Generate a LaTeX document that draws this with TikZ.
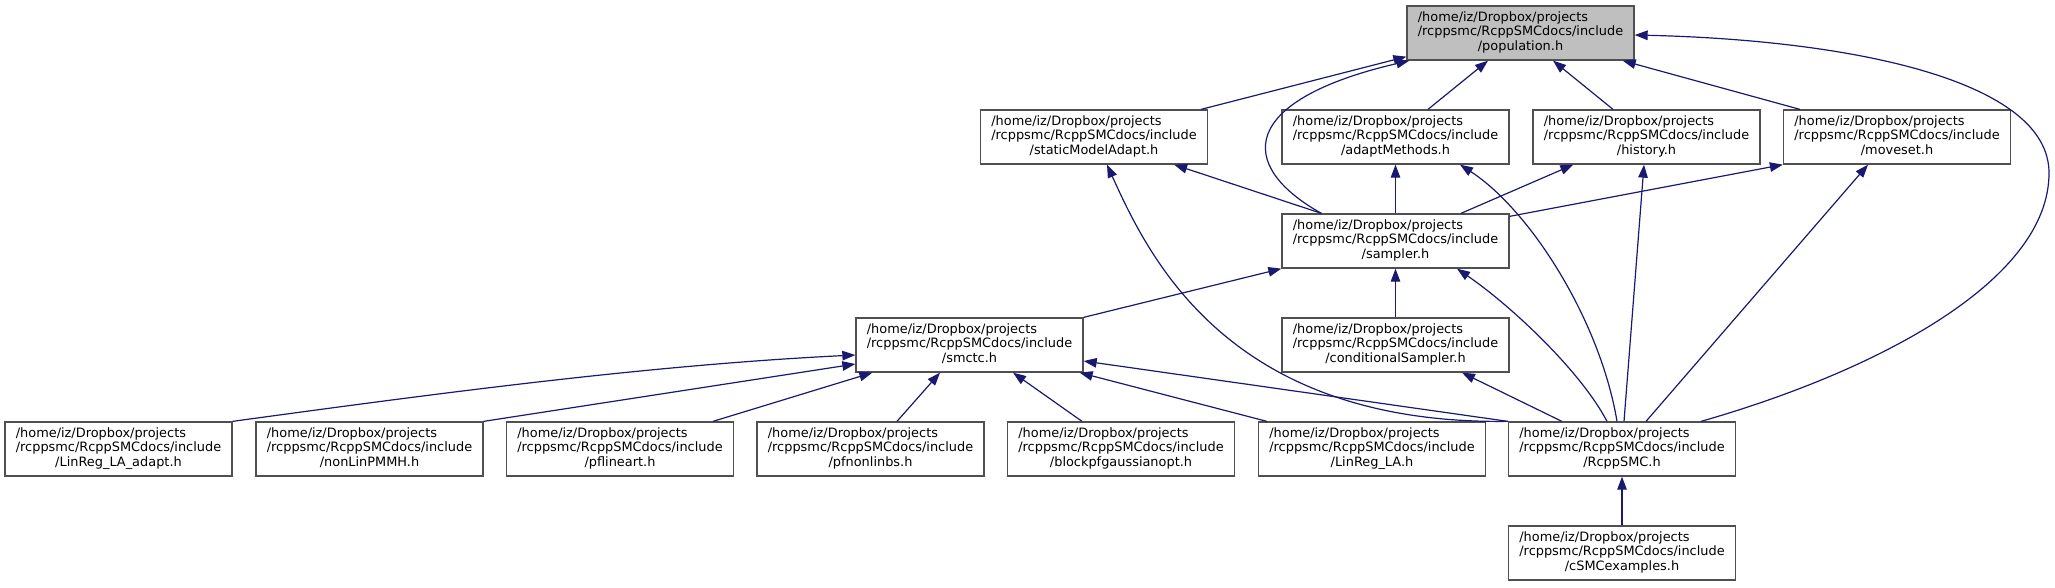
\documentclass[tikz,border=0pt]{standalone}
\usepackage{fontspec}
\setmainfont{DejaVu Sans}
\usetikzlibrary{arrows.meta,calc}
\definecolor{edgeblue}{HTML}{191970}
\definecolor{boxgray}{HTML}{505050}
\definecolor{rootfill}{HTML}{BFBFBF}
\newcommand\fpath[1]{\begin{tabular}{@{}l@{}}/home/iz/Dropbox/projects\\/rcppsmc/RcppSMCdocs/include\\\multicolumn{1}{@{}c@{}}{/#1}\end{tabular}}
\tikzset{
  filebox/.style={draw=boxgray, line width=1.3pt, fill=white, minimum width=227pt, minimum height=54pt, inner sep=0pt, font=\fontsize{12.9}{14.2}\selectfont},
  rootbox/.style={filebox, fill=rootfill},
  edge/.style={draw=edgeblue, line width=1.2pt, -{Triangle[length=13pt,width=9.5pt]}}
}
\begin{document}
\begin{tikzpicture}[x=1pt,y=-1pt]
\useasboundingbox (0,0) rectangle (2055,587);
% nodes
\node[rootbox] (pop) at (1520.5,33) {\fpath{population.h}};
\node[filebox] (sma) at (1094,137) {\fpath{staticModelAdapt.h}};
\node[filebox] (adm) at (1395.5,137) {\fpath{adaptMethods.h}};
\node[filebox] (his) at (1646.5,137) {\fpath{history.h}};
\node[filebox] (mov) at (1897,137) {\fpath{moveset.h}};
\node[filebox] (smp) at (1395.5,241) {\fpath{sampler.h}};
\node[filebox] (smc) at (969.5,345) {\fpath{smctc.h}};
\node[filebox] (cds) at (1395.5,345) {\fpath{conditionalSampler.h}};
\node[filebox] (lla) at (118.5,449) {\fpath{LinReg\_LA\_adapt.h}};
\node[filebox] (nlp) at (369.5,449) {\fpath{nonLinPMMH.h}};
\node[filebox] (pfl) at (620,449) {\fpath{pflineart.h}};
\node[filebox] (pfn) at (870.5,449) {\fpath{pfnonlinbs.h}};
\node[filebox] (bpg) at (1121,449) {\fpath{blockpfgaussianopt.h}};
\node[filebox] (lrl) at (1372,449) {\fpath{LinReg\_LA.h}};
\node[filebox] (rcs) at (1622,449) {\fpath{RcppSMC.h}};
\node[filebox] (cse) at (1622,553) {\fpath{cSMCexamples.h}};
% edges to population
\draw[edge] ($(sma.north east)+(-7,0)$) -- ($(pop.south west)+(0,-4)$);
\draw[edge] ($(smp.north west)+(40,0)$) .. controls (1235,165) and (1240,100) .. ($(pop.south west)+(3,0)$);
\draw[edge] ($(adm.north)+(32.5,0)$) -- ($(pop.south)+(-32.5,0)$);
\draw[edge] ($(his.north)+(-33.5,0)$) -- ($(pop.south)+(32.5,0)$);
\draw[edge] ($(mov.north west)+(17,0)$) -- ($(pop.south east)+(-12,0)$);
\draw[edge] ($(rcs.north east)+(-35,0)$) .. controls (1880,370) and (2049,280) .. (2049,173) .. controls (2049,80) and (1850,40) .. ($(pop.east)+(0,2)$);
% edges to row 2
\draw[edge] ($(smp.north west)+(40,0)$) -- ($(sma.south east)+(-34,0)$);
\draw[edge] (smp.north) -- (adm.south);
\draw[edge] ($(smp.north)+(65.5,0)$) -- ($(his.south west)+(41,0)$);
\draw[edge] ($(smp.north east)+(0,3)$) -- (mov.south west);
\draw[edge] (rcs.north west) .. controls (1230,425) and (1150,260) .. ($(sma.south)+(13,0)$);
\draw[edge] ($(rcs.north)+(-5,0)$) .. controls (1600,320) and (1530,210) .. ($(adm.south)+(64.5,0)$);
\draw[edge] ($(rcs.north)+(2,0)$) -- ($(his.south)+(-2.5,0)$);
\draw[edge] ($(rcs.north)+(24,0)$) -- ($(mov.south)+(-29,0)$);
% edges to sampler
\draw[edge] (smc.north east) -- (smp.south west);
\draw[edge] (cds.north) -- (smp.south);
\draw[edge] ($(rcs.north)+(-15,0)$) .. controls (1580,370) and (1510,305) .. ($(smp.south)+(61.5,0)$);
% edges to smctc
\draw[edge] (rcs.north west) -- ($(smc.east)+(0,16)$);
\draw[edge] (lla.north east) .. controls (440,393) and (650,365) .. ($(smc.west)+(0,10)$);
\draw[edge] (nlp.north east) -- ($(smc.west)+(0,19)$);
\draw[edge] ($(pfl.north)+(93,0)$) -- ($(smc.south west)+(17,0)$);
\draw[edge] ($(pfn.north)+(26.5,0)$) -- ($(smc.south)+(-29.5,0)$);
\draw[edge] ($(bpg.north)+(-39,0)$) -- ($(smc.south)+(43.5,0)$);
\draw[edge] ($(lrl.north west)+(9,0)$) -- ($(smc.south east)+(-4,0)$);
% edge to conditionalSampler
\draw[edge] ($(rcs.north west)+(54,0)$) -- ($(cds.south)+(66.5,0)$);
% edge to RcppSMC
\draw[edge] (cse.north) -- (rcs.south);
\end{tikzpicture}
\end{document}
